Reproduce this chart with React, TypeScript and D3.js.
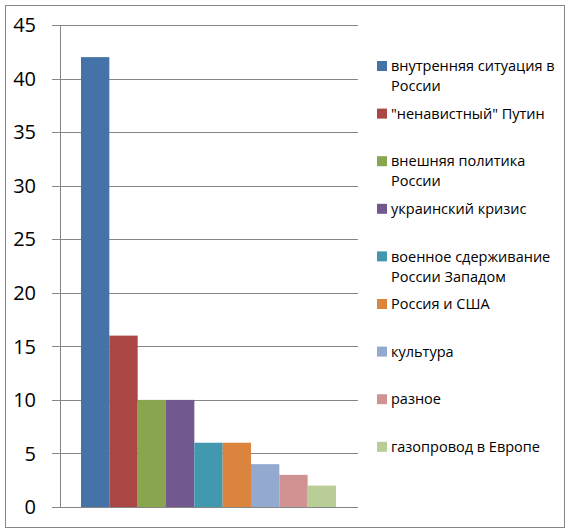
import * as d3 from "d3";
import { useEffect, useRef } from "react";

// темы публикаций, кол-во
const categories = [
  "внутренняя ситуация в\nРоссии",
  "\"ненавистный\" Путин",
  "внешняя политика\nРоссии",
  "украинский кризис",
  "военное сдерживание\nРоссии Западом",
  "Россия и США",
  "культура",
  "разное",
  "газопровод в Европе",
];
const values = [42, 16, 10, 10, 6, 6, 4, 3, 2];
const colors = [
  "#4572A7",
  "#AA4643",
  "#89A54E",
  "#71588F",
  "#4198AF",
  "#DB843D",
  "#93A9CF",
  "#D19392",
  "#B9CD96",
];
const yTicks = [0, 5, 10, 15, 20, 25, 30, 35, 40, 45];

const W = 568;
const H = 531;
const FONT = "'Open Sans', 'Noto Sans', sans-serif";

export default function App() {
  const svgRef = useRef<SVGSVGElement>(null);

  useEffect(() => {
    if (!svgRef.current) return;
    const svg = d3.select(svgRef.current);
    svg.selectAll("*").remove();

    svg
      .append("rect")
      .attr("x", 5.5)
      .attr("y", 5.5)
      .attr("width", 559)
      .attr("height", 522)
      .attr("fill", "#fff")
      .attr("stroke", "#868686")
      .attr("stroke-width", 1);

    const plot = { left: 60, right: 358, top: 25, bottom: 507 };
    const y = d3.scaleLinear().domain([0, 45]).range([plot.bottom, plot.top]);
    const x = d3
      .scaleBand<number>()
      .domain(d3.range(values.length))
      .range([81, 336])
      .padding(0);

    // gridlines
    svg
      .append("g")
      .selectAll("line")
      .data(yTicks)
      .enter()
      .append("line")
      .attr("x1", plot.left - 8)
      .attr("x2", plot.right)
      .attr("y1", (d) => Math.round(y(d)) + 0.5)
      .attr("y2", (d) => Math.round(y(d)) + 0.5)
      .attr("stroke", "#868686")
      .attr("stroke-width", 1);

    svg
      .append("line")
      .attr("x1", plot.left + 0.5)
      .attr("x2", plot.left + 0.5)
      .attr("y1", Math.round(y(45)) + 0.5)
      .attr("y2", Math.round(y(0)) + 0.5)
      .attr("stroke", "#868686");

    svg
      .append("g")
      .selectAll("rect")
      .data(values)
      .enter()
      .append("rect")
      .attr("x", (_, i) => x(i) ?? 0)
      .attr("width", x.bandwidth())
      .attr("y", (d) => y(d))
      .attr("height", (d) => y(0) - y(d))
      .attr("fill", (_, i) => colors[i]);

    svg
      .append("g")
      .selectAll("text")
      .data(yTicks)
      .enter()
      .append("text")
      .attr("x", 36)
      .attr("y", (d) => y(d))
      .attr("dy", "0.36em")
      .attr("text-anchor", "end")
      .attr("font-family", FONT)
      .attr("font-size", 20)
      .attr("fill", "#000")
      .text((d) => d);

    // legend
    const lg = svg.append("g");
    categories.forEach((c, i) => {
      const cy = 66 + i * 47.6;
      lg.append("rect")
        .attr("x", 377)
        .attr("y", cy - 5)
        .attr("width", 10)
        .attr("height", 10)
        .attr("fill", colors[i]);
      const t = lg
        .append("text")
        .attr("font-family", FONT)
        .attr("font-size", 14.5)
        .attr("fill", "#000");
      c.split("\n").forEach((line, j) => {
        t.append("tspan")
          .attr("x", 391)
          .attr("y", cy + j * 20)
          .attr("dy", "0.36em")
          .text(line);
      });
    });
  }, []);

  return (
    <svg
      ref={svgRef}
      width={W}
      height={H}
      style={{ position: "absolute", left: 0, top: 0 }}
    />
  );
}
